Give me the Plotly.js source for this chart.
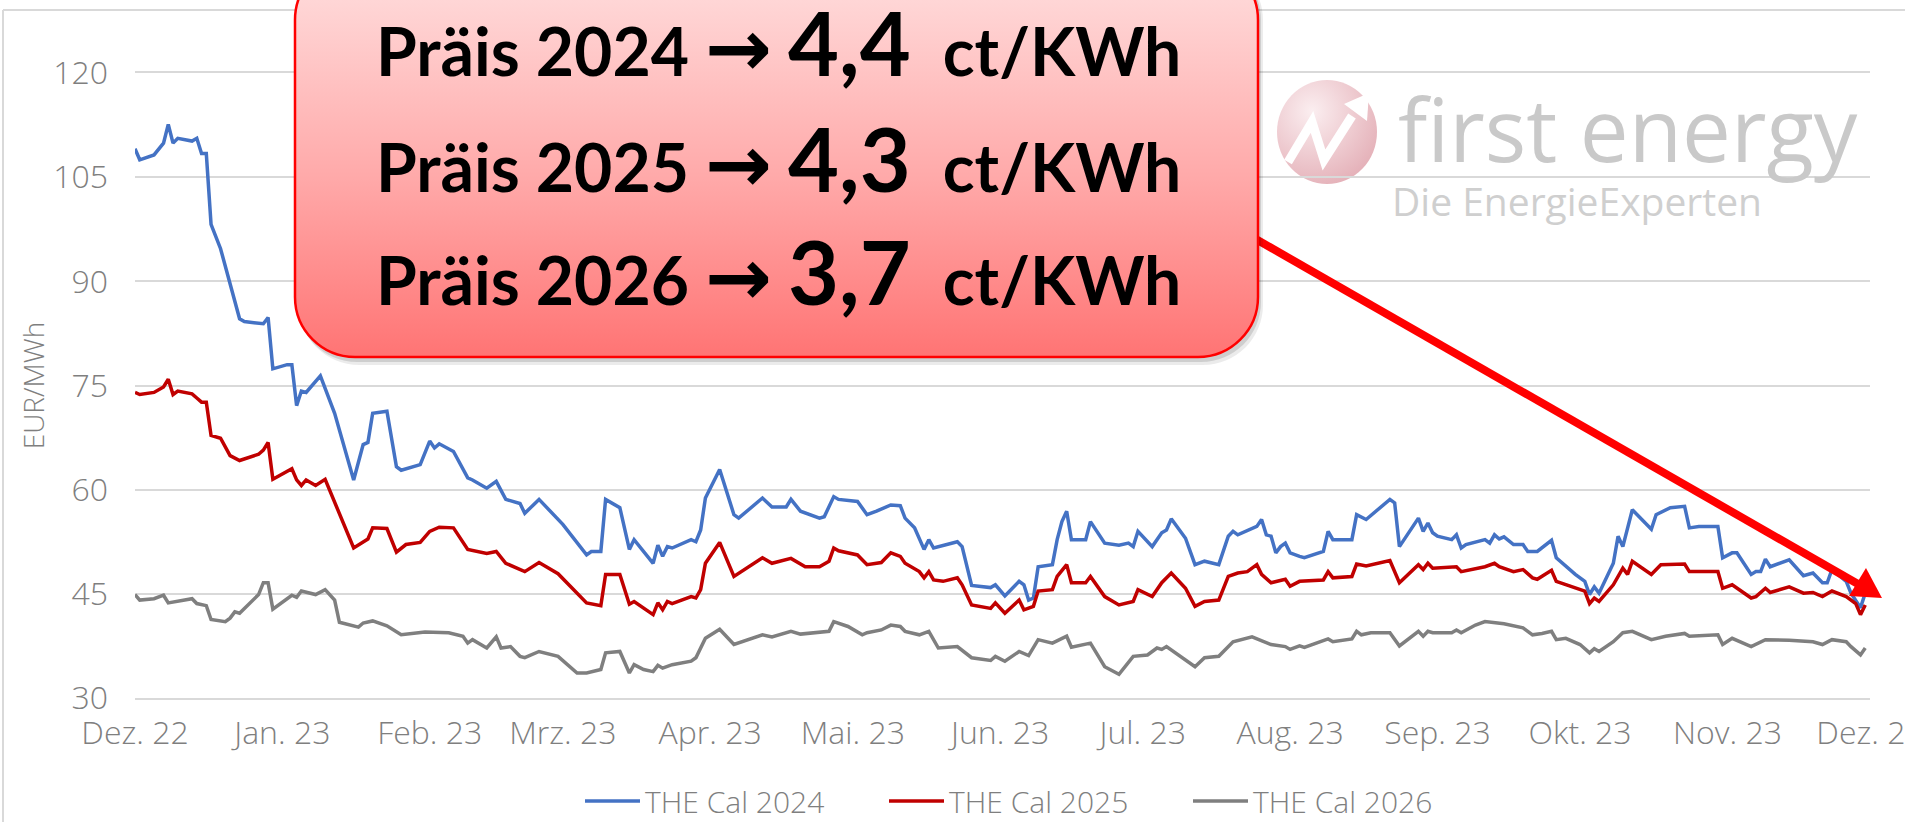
<!DOCTYPE html>
<html>
<head>
<meta charset="utf-8">
<script src="https://cdn.plot.ly/plotly-3.0.1.min.js"></script>
<style>html,body{margin:0;padding:0;background:#fff;overflow:hidden}</style>
</head>
<body>
<div id="chart" style="width:1905px;height:822px"></div>
<script>
// ---------- data ----------
const seriesNames = ['THE Cal 2024', 'THE Cal 2025', 'THE Cal 2026'];
const monthTicks = ['2022-12-01','2023-01-01','2023-02-01','2023-03-01','2023-04-01','2023-05-01','2023-06-01','2023-07-01','2023-08-01','2023-09-01','2023-10-01','2023-11-01','2023-12-01'];
const monthLabels = ['Dez. 22','Jan. 23','Feb. 23','Mrz. 23','Apr. 23','Mai. 23','Jun. 23','Jul. 23','Aug. 23','Sep. 23','Okt. 23','Nov. 23','Dez. 23'];
const yTicks = [30, 45, 60, 75, 90, 105, 120];

const cal2024Dates = ['2022-12-01','2022-12-02','2022-12-05','2022-12-07','2022-12-08','2022-12-09','2022-12-10','2022-12-13','2022-12-14','2022-12-15','2022-12-16','2022-12-17','2022-12-19','2022-12-23','2022-12-24','2022-12-28','2022-12-29','2022-12-30',
'2023-01-02','2023-01-03','2023-01-04','2023-01-05','2023-01-06','2023-01-09','2023-01-12','2023-01-16','2023-01-18','2023-01-19','2023-01-20','2023-01-23','2023-01-25','2023-01-26','2023-01-30',
'2023-02-01','2023-02-02','2023-02-03','2023-02-06','2023-02-09','2023-02-10','2023-02-13','2023-02-15','2023-02-17','2023-02-20','2023-02-21','2023-02-24',
'2023-03-01','2023-03-06','2023-03-07','2023-03-09','2023-03-10','2023-03-13','2023-03-15','2023-03-16','2023-03-20','2023-03-21','2023-03-22','2023-03-23','2023-03-24','2023-03-28','2023-03-29','2023-03-30','2023-03-31',
'2023-04-03','2023-04-06','2023-04-07','2023-04-12','2023-04-14','2023-04-17','2023-04-18','2023-04-20','2023-04-24','2023-04-25','2023-04-27','2023-04-28',
'2023-05-02','2023-05-04','2023-05-06','2023-05-09','2023-05-11','2023-05-12','2023-05-14','2023-05-16','2023-05-17','2023-05-18','2023-05-23','2023-05-24','2023-05-26','2023-05-30','2023-05-31',
'2023-06-02','2023-06-05','2023-06-06','2023-06-07','2023-06-08','2023-06-09','2023-06-12','2023-06-13','2023-06-14','2023-06-15','2023-06-16','2023-06-19','2023-06-20','2023-06-23','2023-06-26','2023-06-28','2023-06-29','2023-06-30',
'2023-07-03','2023-07-05','2023-07-06','2023-07-07','2023-07-10','2023-07-12','2023-07-14','2023-07-17','2023-07-19','2023-07-20','2023-07-21','2023-07-25','2023-07-26','2023-07-27','2023-07-28','2023-07-29','2023-07-30','2023-07-31',
'2023-08-01','2023-08-03','2023-08-04','2023-08-08','2023-08-09','2023-08-10','2023-08-14','2023-08-15','2023-08-16','2023-08-17','2023-08-22','2023-08-23','2023-08-24','2023-08-28','2023-08-29','2023-08-30','2023-08-31',
'2023-09-01','2023-09-04','2023-09-05','2023-09-06','2023-09-07','2023-09-11','2023-09-12','2023-09-13','2023-09-14','2023-09-15','2023-09-17','2023-09-19','2023-09-20','2023-09-22','2023-09-25','2023-09-26','2023-09-30',
'2023-10-02','2023-10-03','2023-10-04','2023-10-05','2023-10-08','2023-10-09','2023-10-10','2023-10-12','2023-10-14','2023-10-16','2023-10-17','2023-10-19','2023-10-20','2023-10-23','2023-10-24','2023-10-26','2023-10-30','2023-10-31',
'2023-11-02','2023-11-03','2023-11-06','2023-11-07','2023-11-08','2023-11-09','2023-11-10','2023-11-14','2023-11-17','2023-11-19','2023-11-21','2023-11-22','2023-11-23','2023-11-26','2023-11-27','2023-11-29','2023-11-30'];
const cal2024Prices = [109.1,107.5,108.2,109.9,112.6,109.9,110.6,110.2,110.6,108.4,108.4,98.2,94.7,84.6,84.2,83.9,84.8,77.4,
78.0,78.0,72.1,74.2,74.0,76.4,71.0,61.4,66.5,66.8,71.0,71.3,63.3,62.8,63.6,
67.0,66.0,66.6,65.5,61.7,61.4,60.2,61.2,58.6,58.0,56.6,58.6,
55.0,50.6,51.1,51.1,58.6,57.4,51.4,52.8,49.4,52.0,50.4,51.8,51.6,52.8,52.5,54.2,58.8,
62.9,56.4,55.9,58.8,57.5,57.5,58.6,56.9,55.9,56.1,59.0,58.6,
58.3,56.4,56.9,57.8,57.7,55.9,54.5,51.4,52.8,51.6,52.5,51.8,46.2,45.9,46.3,
44.7,46.8,46.3,44.1,44.4,48.9,49.2,52.8,55.4,56.9,52.8,52.8,55.4,52.3,52.0,52.3,51.8,54.0,
51.8,53.8,54.2,55.8,53.0,49.2,49.7,49.2,53.3,54.0,53.5,54.7,55.7,53.5,53.3,50.9,51.8,52.3,
50.9,50.4,50.2,51.1,54.0,52.8,52.8,56.4,56.1,55.7,58.6,58.1,51.8,55.9,54.0,55.2,53.8,
53.3,52.8,53.5,51.6,52.1,52.8,52.3,53.5,52.9,53.2,52.1,52.1,51.1,51.1,52.7,50.2,47.8,
46.8,44.9,46.0,45.1,49.4,53.3,51.8,57.1,55.7,54.3,56.4,57.1,57.4,57.6,54.5,54.7,54.7,50.2,
50.9,50.9,47.8,48.2,48.2,50.0,48.9,49.9,47.6,48.0,46.6,46.6,48.5,46.8,45.1,43.0,45.1];

const cal2025Dates = ['2022-12-01','2022-12-02','2022-12-05','2022-12-07','2022-12-08','2022-12-09','2022-12-10','2022-12-13','2022-12-14','2022-12-15','2022-12-16','2022-12-17','2022-12-19','2022-12-21','2022-12-23','2022-12-27','2022-12-28','2022-12-29','2022-12-30',
'2023-01-03','2023-01-04','2023-01-05','2023-01-06','2023-01-08','2023-01-10','2023-01-16','2023-01-19','2023-01-20','2023-01-23','2023-01-25','2023-01-27','2023-01-30',
'2023-02-01','2023-02-03','2023-02-06','2023-02-09','2023-02-13','2023-02-15','2023-02-17','2023-02-21','2023-02-24','2023-02-28',
'2023-03-06','2023-03-09','2023-03-10','2023-03-13','2023-03-15','2023-03-16','2023-03-20','2023-03-21','2023-03-22','2023-03-23','2023-03-24','2023-03-28','2023-03-29','2023-03-30','2023-03-31',
'2023-04-03','2023-04-06','2023-04-12','2023-04-14','2023-04-18','2023-04-21','2023-04-24','2023-04-26','2023-04-27','2023-04-28',
'2023-05-02','2023-05-04','2023-05-07','2023-05-09','2023-05-11','2023-05-12','2023-05-15','2023-05-16','2023-05-17','2023-05-18','2023-05-20','2023-05-23','2023-05-24','2023-05-26','2023-05-30','2023-05-31',
'2023-06-02','2023-06-05','2023-06-06','2023-06-08','2023-06-09','2023-06-12','2023-06-13','2023-06-15','2023-06-16','2023-06-19','2023-06-20','2023-06-23','2023-06-26','2023-06-29','2023-06-30',
'2023-07-03','2023-07-05','2023-07-07','2023-07-10','2023-07-12','2023-07-14','2023-07-17','2023-07-19','2023-07-21','2023-07-23','2023-07-25','2023-07-26','2023-07-28','2023-07-31',
'2023-08-01','2023-08-03','2023-08-08','2023-08-09','2023-08-10','2023-08-14','2023-08-15','2023-08-17','2023-08-22','2023-08-24','2023-08-28','2023-08-29','2023-08-30','2023-08-31',
'2023-09-05','2023-09-06','2023-09-11','2023-09-13','2023-09-14','2023-09-17','2023-09-19','2023-09-21','2023-09-22','2023-09-25','2023-09-26','2023-09-30',
'2023-10-02','2023-10-03','2023-10-04','2023-10-05','2023-10-08','2023-10-10','2023-10-11','2023-10-12','2023-10-16','2023-10-18','2023-10-23','2023-10-24','2023-10-30','2023-10-31',
'2023-11-02','2023-11-06','2023-11-07','2023-11-09','2023-11-10','2023-11-14','2023-11-17','2023-11-19','2023-11-21','2023-11-23','2023-11-26','2023-11-28','2023-11-29','2023-11-30'];
const cal2025Prices = [74.0,73.7,74.0,74.8,75.9,73.7,74.2,73.8,73.2,72.6,72.6,67.8,67.4,64.9,64.2,65.1,65.7,66.8,61.5,
63.0,61.4,60.6,61.4,60.6,61.5,51.6,52.9,54.5,54.4,51.0,52.1,52.4,
54.0,54.6,54.5,51.4,50.8,51.1,49.4,48.2,49.5,47.9,
43.7,43.3,47.8,47.8,43.5,43.9,42.0,43.7,42.7,43.9,43.6,44.6,44.4,45.6,49.4,
52.4,47.5,50.2,49.4,50.1,48.9,48.9,49.7,51.6,51.2,
50.6,49.2,49.5,50.9,50.4,49.4,48.2,47.3,48.2,47.0,46.8,47.3,46.3,43.4,42.9,43.7,
42.2,44.1,42.7,43.2,45.4,45.6,47.5,49.2,46.6,46.6,47.5,44.6,43.4,43.9,45.6,
44.6,46.6,48.0,45.8,43.2,43.9,44.1,47.5,48.0,48.2,49.2,47.8,46.6,47.1,
46.1,46.8,47.0,48.2,47.3,47.5,49.3,49.0,49.8,46.6,49.2,48.5,49.4,48.7,
48.9,48.2,48.9,49.4,48.9,48.2,48.5,47.3,47.1,48.4,46.8,45.8,
45.4,43.6,44.4,43.9,46.3,48.7,47.8,49.7,47.8,49.2,49.3,48.2,48.2,45.8,
46.3,44.4,44.6,45.8,45.2,46.0,45.1,45.2,44.6,45.4,44.6,43.6,42.0,43.4];

const cal2026Dates = ['2022-12-01','2022-12-02','2022-12-05','2022-12-07','2022-12-08','2022-12-10','2022-12-13','2022-12-14','2022-12-16','2022-12-17','2022-12-20','2022-12-21','2022-12-22','2022-12-23','2022-12-26','2022-12-27','2022-12-28','2022-12-29','2022-12-30',
'2023-01-03','2023-01-04','2023-01-05','2023-01-08','2023-01-10','2023-01-12','2023-01-13','2023-01-17','2023-01-18','2023-01-20','2023-01-23','2023-01-26','2023-01-31',
'2023-02-05','2023-02-08','2023-02-09','2023-02-10','2023-02-13','2023-02-15','2023-02-16','2023-02-18','2023-02-20','2023-02-21','2023-02-24','2023-02-28',
'2023-03-04','2023-03-06','2023-03-09','2023-03-10','2023-03-13','2023-03-15','2023-03-16','2023-03-18','2023-03-20','2023-03-21','2023-03-22','2023-03-24','2023-03-28','2023-03-29','2023-03-31',
'2023-04-03','2023-04-06','2023-04-12','2023-04-14','2023-04-18','2023-04-20','2023-04-26','2023-04-27','2023-04-30',
'2023-05-03','2023-05-04','2023-05-07','2023-05-09','2023-05-11','2023-05-12','2023-05-15','2023-05-17','2023-05-19','2023-05-23','2023-05-26','2023-05-30','2023-05-31',
'2023-06-02','2023-06-05','2023-06-07','2023-06-09','2023-06-12','2023-06-15','2023-06-16','2023-06-20','2023-06-23','2023-06-26','2023-06-29',
'2023-07-02','2023-07-04','2023-07-05','2023-07-06','2023-07-12','2023-07-14','2023-07-17','2023-07-20','2023-07-24','2023-07-28','2023-07-31',
'2023-08-01','2023-08-03','2023-08-04','2023-08-09','2023-08-10','2023-08-14','2023-08-15','2023-08-16','2023-08-18','2023-08-22','2023-08-24','2023-08-28','2023-08-29','2023-08-30','2023-08-31',
'2023-09-04','2023-09-05','2023-09-06','2023-09-09','2023-09-11','2023-09-13','2023-09-15','2023-09-19','2023-09-21','2023-09-23','2023-09-25','2023-09-26','2023-09-28',
'2023-10-01','2023-10-03','2023-10-04','2023-10-05','2023-10-08','2023-10-10','2023-10-12','2023-10-16','2023-10-19','2023-10-23','2023-10-24','2023-10-30','2023-10-31',
'2023-11-02','2023-11-06','2023-11-09','2023-11-14','2023-11-19','2023-11-21','2023-11-23','2023-11-26','2023-11-27','2023-11-29','2023-11-30'];
const cal2026Prices = [44.9,44.1,44.3,44.8,43.7,43.9,44.3,43.6,43.3,41.3,41.0,41.5,42.4,42.2,44.1,44.9,46.6,46.6,42.8,
44.8,44.5,45.4,44.9,45.6,44.1,40.9,40.2,40.8,41.1,40.4,39.1,39.5,
39.4,38.9,37.9,38.4,37.2,38.8,37.2,37.4,36.0,35.8,36.7,36.0,
33.6,33.6,34.1,36.5,36.7,33.6,34.8,34.1,33.8,34.7,34.3,34.8,35.3,35.8,38.6,
39.9,37.7,39.1,38.8,39.6,39.2,39.6,41.0,40.3,
39.1,39.4,39.8,40.5,40.3,39.6,39.1,39.6,37.2,37.4,35.8,35.4,36.0,
35.3,36.7,36.1,38.4,37.9,38.9,37.3,37.9,34.5,33.4,36.0,
36.2,37.2,37.0,37.4,34.5,35.8,36.0,38.1,38.8,37.7,37.4,
37.0,37.5,37.3,38.5,38.1,38.5,39.6,39.1,39.4,39.4,37.5,39.6,38.9,39.6,39.4,
39.4,39.8,39.4,40.5,41.0,40.9,40.7,40.1,39.1,39.3,39.6,38.4,38.6,
37.7,36.5,37.1,36.7,38.1,39.4,39.6,38.4,38.9,39.3,38.9,39.1,37.7,
38.6,37.4,38.4,38.3,38.1,37.7,38.4,38.1,37.4,36.2,37.2];

const calloutYears = ['2024', '2025', '2026'];
const calloutPrices = ['4,4', '4,3', '3,7'];
const calloutUnit = 'ct/KWh';
const calloutWord = 'Präis';

// ---------- layout helpers (pixel -> paper) ----------
const FIG_W = 1905, FIG_H = 822;
const M_L = 135, M_R = 35, M_T = 73, M_B = 124;
const PW = FIG_W - M_L - M_R, PH = FIG_H - M_T - M_B;
const px2x = px => (px - M_L) / PW;
const py2y = py => (FIG_H - M_B - py) / PH;
const pt = (x, y) => px2x(x).toFixed(5) + ',' + py2y(y).toFixed(5);

function roundRectPath(x0, y0, x1, y1, r) {
  const k = 0.5523 * r;
  return 'M' + pt(x0 + r, y0) + ' L' + pt(x1 - r, y0) +
    ' C' + pt(x1 - r + k, y0) + ' ' + pt(x1, y0 + r - k) + ' ' + pt(x1, y0 + r) +
    ' L' + pt(x1, y1 - r) +
    ' C' + pt(x1, y1 - r + k) + ' ' + pt(x1 - r + k, y1) + ' ' + pt(x1 - r, y1) +
    ' L' + pt(x0 + r, y1) +
    ' C' + pt(x0 + r - k, y1) + ' ' + pt(x0, y1 - r + k) + ' ' + pt(x0, y1 - r) +
    ' L' + pt(x0, y0 + r) +
    ' C' + pt(x0, y0 + r - k) + ' ' + pt(x0 + r - k, y0) + ' ' + pt(x0 + r, y0) + ' Z';
}
function polyPath(points, close) {
  return points.map((p, i) => (i ? 'L' : 'M') + pt(p[0], p[1])).join(' ') + (close ? ' Z' : '');
}

// ---------- traces ----------
const colors = ['#4472C4', '#C00000', '#7F7F7F'];
const xs = [cal2024Dates, cal2025Dates, cal2026Dates];
const ys = [cal2024Prices, cal2025Prices, cal2026Prices];
const traces = seriesNames.map((name, i) => ({
  type: 'scatter', mode: 'lines', name: name,
  x: xs[i], y: ys[i],
  line: { color: colors[i], width: 3.5 },
  hoverinfo: 'skip'
}));

// ---------- shapes ----------
const shapes = [];
// outer frame (left + top)
shapes.push({ type: 'line', xref: 'paper', yref: 'paper', x0: px2x(3), x1: px2x(3), y0: py2y(10), y1: py2y(830), line: { color: '#d9d9d9', width: 2 }, layer: 'below' });
shapes.push({ type: 'line', xref: 'paper', yref: 'paper', x0: px2x(3), x1: px2x(1910), y0: py2y(10), y1: py2y(10), line: { color: '#d9d9d9', width: 2 }, layer: 'below' });
// logo circle
const logoIndex = shapes.length;
shapes.push({ type: 'circle', xref: 'paper', yref: 'paper', x0: px2x(1277), x1: px2x(1377), y0: py2y(184), y1: py2y(80), fillcolor: '#eec6cb', line: { width: 0 }, layer: 'below' });
shapes.push({ type: 'path', xref: 'paper', yref: 'paper', path: polyPath([[1288, 162], [1312, 122], [1324, 160], [1352, 116]], false), line: { color: '#ffffff', width: 9 }, layer: 'below' });
shapes.push({ type: 'path', xref: 'paper', yref: 'paper', path: polyPath([[1369, 93], [1344, 104], [1367, 121]], true), fillcolor: '#ffffff', line: { width: 0 }, layer: 'below' });
// red arrow
shapes.push({ type: 'line', xref: 'paper', yref: 'paper', x0: px2x(1240), y0: py2y(230), x1: px2x(1858), y1: py2y(584), line: { color: '#ff0000', width: 8 }, layer: 'above' });
shapes.push({ type: 'path', xref: 'paper', yref: 'paper', path: polyPath([[1882, 598], [1849, 596], [1866, 568]], true), fillcolor: '#ff0000', line: { width: 0 }, layer: 'above' });
// callout shadow + box
shapes.push({ type: 'path', xref: 'paper', yref: 'paper', path: roundRectPath(299, -40, 1263, 365, 60), fillcolor: 'rgba(0,0,0,0.08)', line: { width: 0 }, layer: 'above' });
shapes.push({ type: 'path', xref: 'paper', yref: 'paper', path: roundRectPath(297, -40, 1261, 362, 60), fillcolor: 'rgba(0,0,0,0.12)', line: { width: 0 }, layer: 'above' });
const boxIndex = shapes.length;
shapes.push({ type: 'path', xref: 'paper', yref: 'paper', path: roundRectPath(295, -40, 1258, 357, 60), fillcolor: '#ffa5a5', line: { color: '#ff0000', width: 2.5 }, layer: 'above' });

// ---------- annotations ----------
const annotations = [];
const lineCenters = [42, 158, 271];
calloutYears.forEach((yr, i) => {
  annotations.push({
    xref: 'paper', yref: 'paper', x: px2x(778), y: py2y(lineCenters[i]),
    xanchor: 'center', yanchor: 'middle', showarrow: false,
    text: calloutWord + ' ' + yr + ' <span style="font-family:DejaVu Sans;font-size:80px">→</span> <span style="font-size:88px">' + calloutPrices[i] + '</span>  ' + calloutUnit,
    font: { family: 'Lato, Open Sans, sans-serif', size: 66, color: '#000000', weight: 'bold' }
  });
});
annotations.push({ xref: 'paper', yref: 'paper', x: px2x(1396), y: py2y(128), xanchor: 'left', yanchor: 'middle', showarrow: false,
  text: 'first energy', font: { family: 'Open Sans, sans-serif', size: 87, color: '#c9c9c9' } });
annotations.push({ xref: 'paper', yref: 'paper', x: px2x(1390), y: py2y(200), xanchor: 'left', yanchor: 'middle', showarrow: false,
  text: 'Die EnergieExperten', font: { family: 'Open Sans, sans-serif', size: 39, color: '#cfcfcf' } });

const tickFont = { family: 'Open Sans, sans-serif', size: 32, color: '#7f7f7f', weight: 300 };

const layout = {
  width: FIG_W, height: FIG_H,
  margin: { l: M_L, r: M_R, t: M_T, b: M_B, pad: 0, autoexpand: false },
  paper_bgcolor: '#ffffff', plot_bgcolor: '#ffffff',
  showlegend: true,
  legend: {
    orientation: 'h', xref: 'paper', yref: 'paper',
    x: px2x(580), y: py2y(801), xanchor: 'left', yanchor: 'middle',
    font: { family: 'Open Sans, sans-serif', size: 30, color: '#7f7f7f', weight: 300 },
    itemwidth: 55, entrywidth: 234, entrywidthmode: 'pixels',
    bgcolor: 'rgba(0,0,0,0)', borderwidth: 0, traceorder: 'normal'
  },
  xaxis: {
    type: 'date', range: ['2022-12-01', '2023-12-01'],
    tickmode: 'array', tickvals: monthTicks, ticktext: monthLabels,
    showgrid: false, zeroline: false,
    showline: true, mirror: true, linecolor: '#d9d9d9', linewidth: 2, ticks: '',
    tickfont: tickFont, ticklabelstandoff: 6, ticklabeloverflow: 'allow', automargin: false, fixedrange: true
  },
  yaxis: {
    range: [30, 120], tickmode: 'array', tickvals: yTicks,
    showgrid: true, gridcolor: '#d9d9d9', gridwidth: 2,
    zeroline: false, showline: false, ticks: '',
    tickfont: tickFont, ticklabelstandoff: 26, automargin: false, fixedrange: true,
    title: { text: 'EUR/MWh', font: { family: 'Open Sans, sans-serif', size: 28, color: '#7f7f7f', weight: 300 }, standoff: 0 }
  },
  shapes: shapes,
  annotations: annotations,
  hovermode: false
};

Plotly.newPlot('chart', traces, layout, { staticPlot: true, displayModeBar: false }).then(gd => {
  const ns = 'http://www.w3.org/2000/svg';
  const svg = gd.querySelector('svg.main-svg');
  const defs = document.createElementNS(ns, 'defs');
  const lg = document.createElementNS(ns, 'linearGradient');
  lg.setAttribute('id', 'calloutGrad');
  lg.setAttribute('x1', '0'); lg.setAttribute('y1', '0'); lg.setAttribute('x2', '0'); lg.setAttribute('y2', '1');
  [['0', '#ffe0e0'], ['0.55', '#ffa9a9'], ['1', '#ff7474']].forEach(s => {
    const st = document.createElementNS(ns, 'stop');
    st.setAttribute('offset', s[0]); st.setAttribute('stop-color', s[1]);
    lg.appendChild(st);
  });
  defs.appendChild(lg);
  const rg = document.createElementNS(ns, 'radialGradient');
  rg.setAttribute('id', 'logoGrad');
  rg.setAttribute('cx', '0.35'); rg.setAttribute('cy', '0.3'); rg.setAttribute('r', '0.8');
  [['0', '#fbeef0'], ['1', '#e3adb5']].forEach(s => {
    const st = document.createElementNS(ns, 'stop');
    st.setAttribute('offset', s[0]); st.setAttribute('stop-color', s[1]);
    rg.appendChild(st);
  });
  defs.appendChild(rg);
  svg.insertBefore(defs, svg.firstChild);
  gd.querySelectorAll('.shapelayer path').forEach(p => {
    const idx = p.getAttribute('data-index');
    if (idx === String(boxIndex)) p.style.fill = 'url(#calloutGrad)';
    if (idx === String(logoIndex)) p.style.fill = 'url(#logoGrad)';
  });
});
</script>
</body>
</html>
